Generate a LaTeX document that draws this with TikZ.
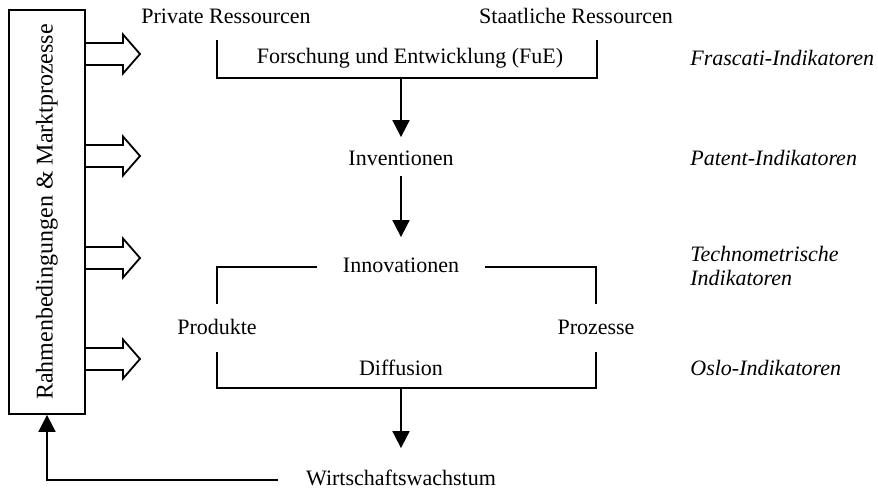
\documentclass[tikz,border=0pt]{standalone}
\usepackage{fontspec}
\setmainfont{Liberation Serif}
\usetikzlibrary{arrows.meta}

\tikzset{
  txt/.style={font=\fontsize{11}{12}\selectfont, inner sep=0pt, text height=7.5pt, text depth=2pt},
  ind/.style={txt, font=\fontsize{11}{12}\selectfont\itshape, anchor=west, align=left},
  linie/.style={line width=0.9pt},
  pfeil/.style={line width=0.9pt, -{Triangle[length=8.5pt,width=8.5pt]}},
  hohl/.style={line width=0.9pt, line join=miter}
}

\begin{document}
\begin{tikzpicture}[x=0.5pt,y=-0.5pt]
\useasboundingbox (0,0) rectangle (878,503);

\node[draw, linie, minimum width=38pt, minimum height=202pt, inner sep=0pt] (rahmen) at (47,212) {};
\node[txt, font=\fontsize{12}{14}\selectfont, rotate=90] (rahmentext) at (rahmen.center) {Rahmenbedingungen \& Marktprozesse};
\foreach \y in {54,156,258,359}
  \draw[hohl] (rahmen.east |- 0,\y-11) -- (123,\y-11) -- (123,\y-19.5) -- (140,\y)
    -- (123,\y+19.5) -- (123,\y+11) -- (rahmen.east |- 0,\y+11);

\node[txt] (privat) at (226,18) {Private Ressourcen};
\node[txt] (staat) at (576,18) {Staatliche Ressourcen};
\node[txt] (fue) at (410,58) {Forschung und Entwicklung (FuE)};
\node[txt] (inv) at (401,160) {Inventionen};
\node[txt] (innov) at (401,267) {Innovationen};
\node[txt] (prod) at (217,329) {Produkte};
\node[txt] (proz) at (596,329) {Prozesse};
\node[txt] (diff) at (401,370) {Diffusion};
\node[txt] (wachs) at (401,480) {Wirtschaftswachstum};

\node[ind] (frascati) at (690,60) {Frascati-Indikatoren};
\node[ind] (patent) at (690,160) {Patent-Indikatoren};
\node[ind] (techno) at (690,280) {Technometrische\\Indikatoren};
\node[ind] (oslo) at (690,370) {Oslo-Indikatoren};

\coordinate (fueb) at (401,78);
\coordinate (diffl) at (217,388);
\coordinate (diffb) at (401,388);
\coordinate (diffr) at (596,388);

\draw[linie] (217,40) |- (fueb) -| (597,40);
\draw[pfeil, shorten >=6.5pt] (fueb) -- (inv);
\draw[pfeil, shorten <=3pt, shorten >=10pt] (inv) -- (innov);
\draw[linie, shorten <=13pt, shorten >=7.5pt] (innov.west) -| (prod.north);
\draw[linie, shorten <=13pt, shorten >=7.5pt] (innov.east) -| (proz.north);
\draw[linie, shorten <=6.5pt, shorten >=6.5pt] (prod.south) -- (diffl) -- (diffr) -- (proz.south);
\draw[pfeil, shorten >=11pt] (diffb) -- (wachs);
\draw[pfeil, shorten <=14pt] (wachs.west) -| (rahmen.south);
\end{tikzpicture}
\end{document}
